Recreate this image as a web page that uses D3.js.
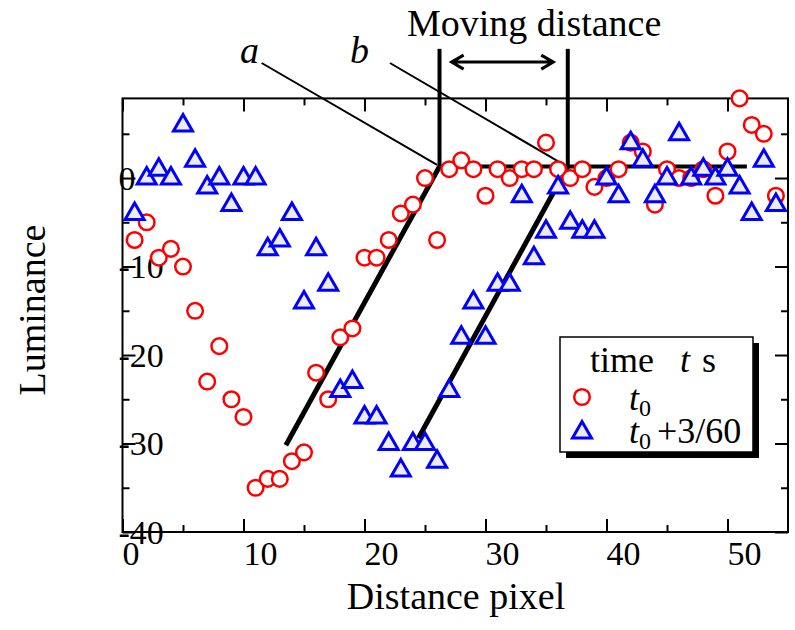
<!DOCTYPE html>
<html>
<head>
<meta charset="utf-8">
<script src="https://cdn.jsdelivr.net/npm/d3@7"></script>
<style>
  body { margin: 0; background: #fff; }
  svg { font-family: "Liberation Serif", "Times New Roman", serif; }
</style>
</head>
<body>
<svg class="chart" width="795" height="630"></svg>
<script>
const pixels = d3.range(1, 55)
const lumT0 = [-7, -5, -9, -8, -10, -15, -23, -19, -25, -27,
  -35, -34, -34, -32, -31, -22, -25, -18, -17, -9,
  -9, -7, -4, -3, 0, -7, 1, 2, 1, -2,
  1, 0, 1, 1, 4, 1, 0, 1, -1, 0,
  1, 4, 3, -3, 1, 0, 0, 1, -2, 3,
  9, 6, 5, -2]
const lumT1 = [-4, 0, 1, 0, 6, 2, -1, 0, -3, 0,
  0, -8, -7, -4, -14, -8, -12, -24, -23, -27,
  -27, -30, -33, -30, -30, -32, -24, -18, -14, -18,
  -12, -12, -2, -9, -6, -1, -5, -6, -6, 0,
  -2, 4, 2, -2, 0, 5, 0, 1, 0, 1,
  -1, -4, 2, -3]

const xMajor = [0, 10, 20, 30, 40, 50]
const xMinor = [5, 15, 25, 35, 45]
const xTickLabels = ['0', '10', '20', '30', '40', '50']
const yMajor = [-40, -30, -20, -10, 0]
const yMinor = [-35, -25, -15, -5, 5]
const yTickLabels = ['-40', '-30', '-20', '-10', '0']

// guide lines, in data units
const lineA = [[13.5, -30.2], [26.2, 1.3]]
const lineB = [[24.45, -29.4], [36.8, 1.3]]
const plateau = [[26.2, 1.3], [51.6, 1.3]]
const markA = [[26.2, 1.3], [26.2, 14.6]]
const markB = [[36.8, 1.3], [36.8, 14.6]]
const leaderA = [[11.5, 13.0], [26.0, 1.5]]
const leaderB = [[22.1, 13.0], [36.5, 1.5]]
const arrowSpan = [[27.2, 13.1], [35.6, 13.1]]

const plotLeft = 122.5, plotRight = 788, plotTop = 98.4, plotBottom = 532

const svg = d3.select('.chart')

const x = d3.scaleLinear().domain([0, 55]).range([plotLeft, plotRight])
const y = d3.scaleLinear().domain([-40, 9]).range([plotBottom, plotTop])

const line = d3.line().x(d => x(d[0])).y(d => y(d[1]))

function ticks(axis, values, size, pos) {
  const g = svg.append('g')
    .attr('transform', pos)
    .call(axis.tickValues(values).tickSizeInner(size).tickSizeOuter(0).tickFormat(''))
  g.select('.domain').remove()
  g.selectAll('line').attr('stroke', '#000').attr('stroke-width', 2)
  g.selectAll('text').remove()
  return g
}

ticks(d3.axisBottom(x), xMajor, -13, `translate(0,${plotBottom})`)
ticks(d3.axisBottom(x), xMinor, -7, `translate(0,${plotBottom})`)
ticks(d3.axisTop(x), xMajor, -13, `translate(0,${plotTop})`)
ticks(d3.axisTop(x), xMinor, -7, `translate(0,${plotTop})`)
ticks(d3.axisLeft(y), yMajor, -13, `translate(${plotLeft},0)`)
ticks(d3.axisLeft(y), yMinor, -7, `translate(${plotLeft},0)`)
ticks(d3.axisRight(y), yMajor, -13, `translate(${plotRight},0)`)
ticks(d3.axisRight(y), yMinor, -7, `translate(${plotRight},0)`)

svg.append('rect')
  .attr('x', plotLeft).attr('y', plotTop)
  .attr('width', plotRight - plotLeft).attr('height', plotBottom - plotTop)
  .attr('fill', 'none').attr('stroke', '#000').attr('stroke-width', 2)

svg.append('g').selectAll('text')
  .data(xMajor)
  .enter()
  .append('text')
  .attr('x', d => x(d))
  .attr('y', plotBottom + 33)
  .attr('font-size', 34)
  .text((d, i) => xTickLabels[i])

svg.append('g').selectAll('text')
  .data(yMajor)
  .enter()
  .append('text')
  .attr('x', plotLeft - 4)
  .attr('y', d => y(d) + 11.5)
  .attr('font-size', 34)
  .text((d, i) => yTickLabels[i])

svg.append('text')
  .attr('x', 456).attr('y', 609)
  .attr('text-anchor', 'middle')
  .attr('font-size', 38)
  .text('Distance pixel')

svg.append('text')
  .attr('transform', 'translate(45,310) rotate(-90)')
  .attr('text-anchor', 'middle')
  .attr('font-size', 38)
  .text('Luminance')

// guide lines
svg.append('g').selectAll('path')
  .data([lineA, lineB])
  .enter()
  .append('path')
  .attr('d', line)
  .attr('stroke', '#000').attr('stroke-width', 5).attr('fill', 'none')

svg.append('g').selectAll('path')
  .data([plateau, markA, markB])
  .enter()
  .append('path')
  .attr('d', line)
  .attr('stroke', '#000').attr('stroke-width', 4).attr('fill', 'none')

svg.append('g').selectAll('path')
  .data([leaderA, leaderB])
  .enter()
  .append('path')
  .attr('d', line)
  .attr('stroke', '#000').attr('stroke-width', 2).attr('fill', 'none')

const ax0 = x(arrowSpan[0][0]), ax1 = x(arrowSpan[1][0]), ay = y(arrowSpan[0][1])
svg.append('path')
  .attr('d', `M${ax0},${ay}H${ax1}M${ax0 + 12},${ay - 7}L${ax0},${ay}L${ax0 + 12},${ay + 7}` +
    `M${ax1 - 12},${ay - 7}L${ax1},${ay}L${ax1 - 12},${ay + 7}`)
  .attr('stroke', '#000').attr('stroke-width', 3).attr('fill', 'none')

svg.append('text')
  .attr('x', 407).attr('y', 36)
  .attr('font-size', 38)
  .text('Moving distance')

svg.append('text')
  .attr('x', 240).attr('y', 63)
  .attr('font-size', 38).attr('font-style', 'italic')
  .text('a')

svg.append('text')
  .attr('x', 350).attr('y', 63)
  .attr('font-size', 38).attr('font-style', 'italic')
  .text('b')

// markers
const tri = 'M0,-10.5L9.5,6L-9.5,6Z'

svg.append('g').selectAll('circle')
  .data(lumT0)
  .enter()
  .append('circle')
  .attr('cx', (d, i) => x(pixels[i]))
  .attr('cy', d => y(d))
  .attr('r', 7.8)
  .attr('fill', '#fff')
  .attr('stroke', '#ff0000')
  .attr('stroke-width', 2.5)

svg.append('g').selectAll('path')
  .data(lumT1)
  .enter()
  .append('path')
  .attr('d', tri)
  .attr('transform', (d, i) => `translate(${x(pixels[i])},${y(d)})`)
  .attr('fill', '#ececec')
  .attr('stroke', '#0000ff')
  .attr('stroke-width', 3)

// legend
const legend = svg.append('g')
legend.append('rect')
  .attr('x', 566).attr('y', 343).attr('width', 193).attr('height', 115)
  .attr('fill', '#000')
legend.append('rect')
  .attr('x', 560).attr('y', 337).attr('width', 193).attr('height', 115)
  .attr('fill', '#fff').attr('stroke', '#000').attr('stroke-width', 1.5)

const title = legend.append('text').attr('y', 372).attr('font-size', 36)
title.append('tspan').attr('x', 590).text('time')
title.append('tspan').attr('x', 680).attr('font-style', 'italic').text('t')
title.append('tspan').attr('x', 702).text('s')

legend.append('circle')
  .attr('cx', 582).attr('cy', 397).attr('r', 7.8)
  .attr('fill', '#fff').attr('stroke', '#ff0000').attr('stroke-width', 2.5)
legend.append('path')
  .attr('d', tri)
  .attr('transform', 'translate(582,432)')
  .attr('fill', '#ececec').attr('stroke', '#0000ff').attr('stroke-width', 3)

const l1 = legend.append('text').attr('x', 629).attr('y', 410).attr('font-size', 36)
l1.append('tspan').attr('font-style', 'italic').text('t')
l1.append('tspan').attr('font-size', 24).attr('dy', 6).text('0')

const l2 = legend.append('text').attr('x', 629).attr('y', 443).attr('font-size', 36)
l2.append('tspan').attr('font-style', 'italic').text('t')
l2.append('tspan').attr('font-size', 24).attr('dy', 6).text('0')
l2.append('tspan').attr('x', 657).attr('dy', -6).text('+3/60')
</script>
</body>
</html>
